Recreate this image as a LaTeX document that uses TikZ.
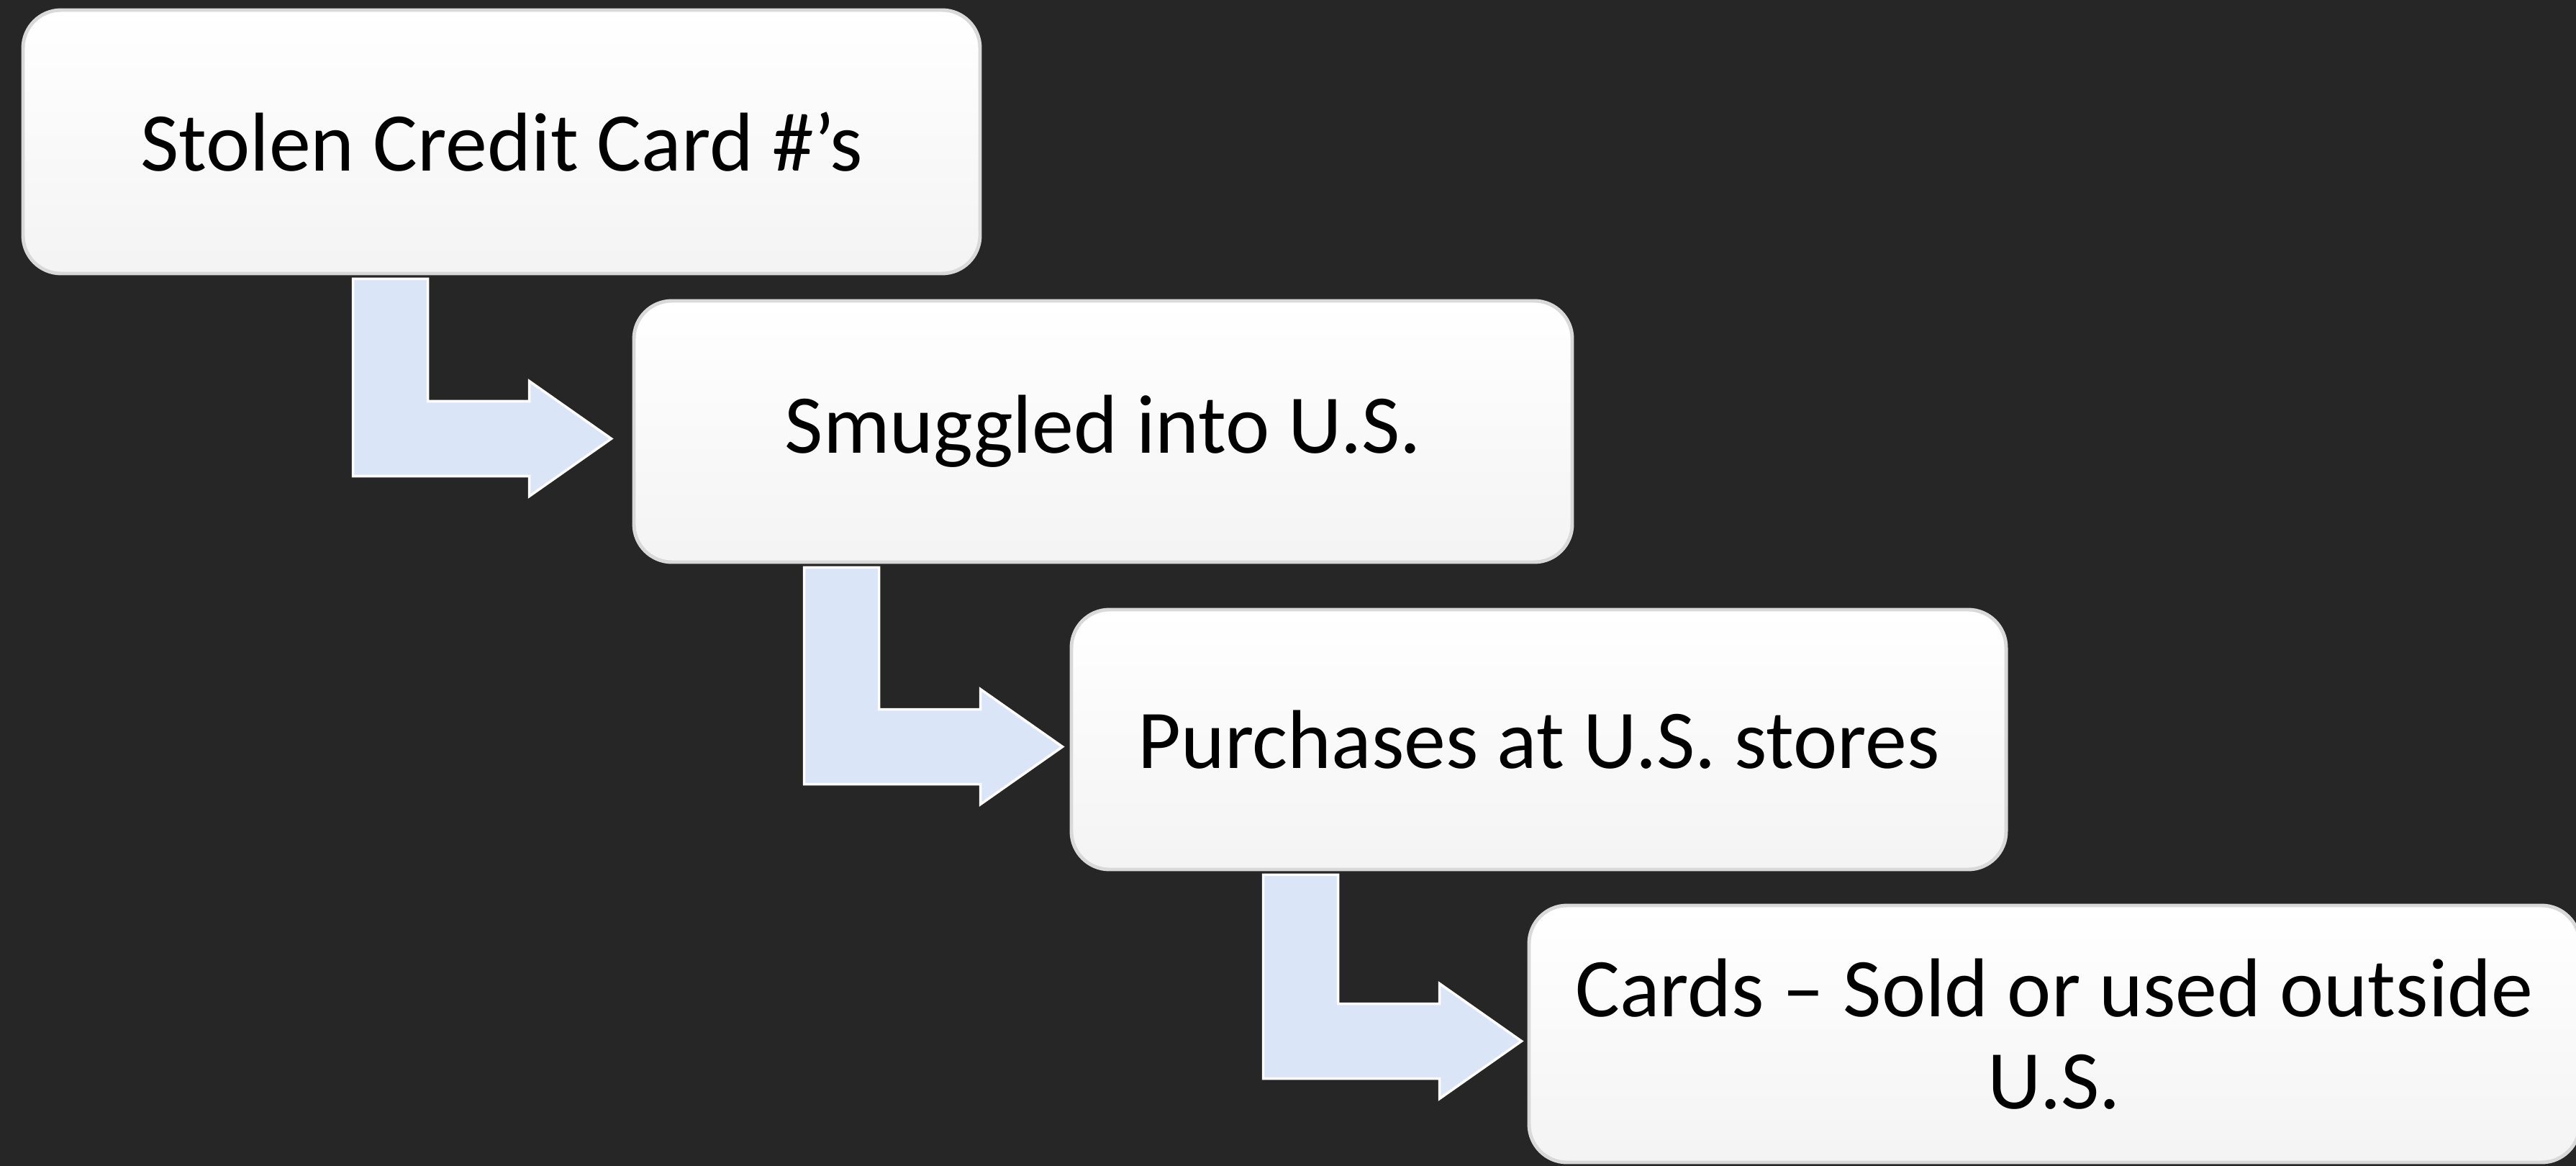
\documentclass[tikz,border=0pt]{standalone}
\usepackage{fontspec}
\setmainfont{Carlito}
\usetikzlibrary{calc}
\definecolor{slidebg}{HTML}{262626}
\definecolor{elbowfill}{HTML}{DAE5F7}

\begin{document}
\begin{tikzpicture}[every node/.style={font=\fontsize{33}{36.4}\selectfont}, stagebox/.style={draw=gray!30, line width=1.4pt, rounded corners=15pt, top color=white, bottom color=gray!9, inner sep=0pt, align=center}, elbowarrow/.style={fill=elbowfill, draw=white, line width=1pt}]
	\fill[slidebg] (0,0) rectangle (35.8,-16.2);
	\useasboundingbox (0,0) rectangle (35.8,-16.2);
	\node[stagebox, minimum width=13.30cm, minimum height=3.66cm] (b1) at (6.97,-1.97) {Stolen Credit Card \#’s};
	\node[stagebox, minimum width=13.04cm, minimum height=3.63cm] (b2) at (15.33,-5.995) {Smuggled into U.S.};
	\node[stagebox, minimum width=12.99cm, minimum height=3.61cm] (b3) at (21.385,-10.275) {Purchases at U.S. stores};
	\node[stagebox, minimum width=14.60cm, minimum height=3.57cm] (b4) at (28.55,-14.365) {Cards – Sold or used outside\\U.S.};
	\foreach \a/\b/\d in {b1/b2/0.29, b2/b3/0.10, b3/b4/0.08} {
		\coordinate (t) at ($(\b.west)+(-\d,-0.1)$);
		\draw[elbowarrow] let \p1=(t), \p2=(\a.south) in (\x1-3.59cm,\y2-0.05cm) -- (\x1-2.55cm,\y2-0.05cm) -- (\x1-2.55cm,\y1+0.52cm) -- (\x1-1.14cm,\y1+0.52cm) -- (\x1-1.14cm,\y1+0.8cm) -- (t) -- (\x1-1.14cm,\y1-0.8cm) -- (\x1-1.14cm,\y1-0.52cm) -- (\x1-3.59cm,\y1-0.52cm) -- cycle;
	}
\end{tikzpicture}
\end{document}
